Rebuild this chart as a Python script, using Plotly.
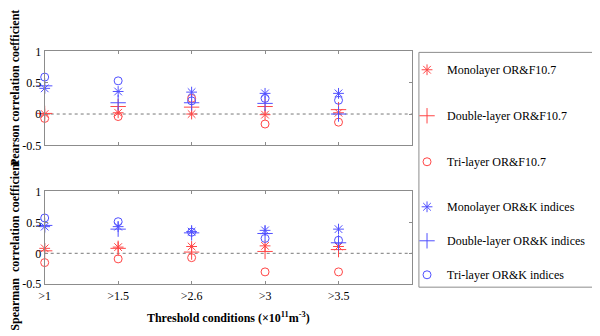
import plotly.graph_objects as go

categories = [">1", ">1.5", ">2.6", ">3", ">3.5"]
x_pos = [1, 2, 3, 4, 5]

pearson_mono_f107 = [0.0, 0.02, 0.0, -0.01, 0.02]
pearson_double_f107 = [0.01, 0.12, 0.11, 0.12, 0.07]
pearson_tri_f107 = [-0.07, -0.04, 0.25, -0.16, -0.13]
pearson_mono_k = [0.41, 0.36, 0.35, 0.33, 0.33]
pearson_double_k = [0.45, 0.18, 0.18, 0.17, 0.0]
pearson_tri_k = [0.59, 0.53, 0.21, 0.25, 0.22]

spearman_mono_f107 = [0.08, 0.10, 0.11, 0.12, 0.11]
spearman_double_f107 = [0.04, 0.08, 0.02, 0.03, 0.06]
spearman_tri_f107 = [-0.15, -0.09, -0.07, -0.30, -0.30]
spearman_mono_k = [0.43, 0.43, 0.35, 0.37, 0.39]
spearman_double_k = [0.45, 0.39, 0.33, 0.32, 0.17]
spearman_tri_k = [0.57, 0.51, 0.34, 0.24, 0.21]

names = ["Monolayer OR&F10.7", "Double-layer OR&F10.7", "Tri-layer OR&F10.7",
         "Monolayer OR&K indices", "Double-layer OR&K indices", "Tri-layer OR&K indices"]

RED = "rgb(255,70,70)"
BLUE = "rgb(80,80,255)"
styles = [("asterisk-open", RED, 9), ("cross-thin-open", RED, 11), ("circle-open", RED, 8),
          ("asterisk-open", BLUE, 9), ("cross-thin-open", BLUE, 11), ("circle-open", BLUE, 8)]

pearson = [pearson_mono_f107, pearson_double_f107, pearson_tri_f107,
           pearson_mono_k, pearson_double_k, pearson_tri_k]
spearman = [spearman_mono_f107, spearman_double_f107, spearman_tri_f107,
            spearman_mono_k, spearman_double_k, spearman_tri_k]

fig = go.Figure()
for i, (nm, (sym, col, sz)) in enumerate(zip(names, styles)):
    fig.add_trace(go.Scatter(
        x=x_pos, y=pearson[i], mode="markers", name=nm,
        marker=dict(symbol=sym, color=col, size=sz, line=dict(color=col, width=1)),
        xaxis="x", yaxis="y", cliponaxis=False,
        legend="legend" if i < 3 else "legend2", legendgroup=f"g{i}"))
    fig.add_trace(go.Scatter(
        x=x_pos, y=spearman[i], mode="markers", name=nm, showlegend=False,
        marker=dict(symbol=sym, color=col, size=sz, line=dict(color=col, width=1)),
        xaxis="x2", yaxis="y2", cliponaxis=False, legendgroup=f"g{i}"))

W, H = 600, 336
OFF = 8  # page body margin


def px_x(v):
    return (v - OFF) / W


def px_y(v):
    return 1 - (v - OFF) / H


NB = "\u00a0"
axis_col = "rgb(140,140,140)"
tick_font = dict(family="Liberation Serif", size=12, color="black")
title_font = dict(family="Liberation Serif", size=12, color="black")
common_x = dict(range=[1, 6], tickvals=x_pos, ticktext=categories, ticks="inside",
                ticklen=3, tickcolor=axis_col, showline=True, linecolor=axis_col,
                mirror="ticks", showgrid=False, zeroline=False, tickfont=tick_font,
                tickangle=0, domain=[px_x(39), px_x(410)])
common_y = dict(range=[-0.5, 1], tickvals=[-0.5, 0, 0.5, 1], ticktext=["-0.5", "0", "0.5", "1"],
                ticks="inside", ticklen=3, tickcolor=axis_col, showline=True,
                linecolor=axis_col, mirror="ticks", showgrid=False, zeroline=False,
                tickfont=tick_font)

fig.update_layout(
    width=W, height=H, margin=dict(l=0, r=0, t=0, b=0),
    plot_bgcolor="white", paper_bgcolor="white",
    font=dict(family="Liberation Serif", size=12, color="black"),
    xaxis=dict(**common_x, anchor="y", showticklabels=False),
    yaxis=dict(**common_y, anchor="x", domain=[px_y(144), px_y(46)],
               title=dict(text="<b>" + NB * 7 + "Pearson correlation coefficient</b>",
                          font=title_font, standoff=3)),
    xaxis2=dict(**common_x, anchor="y2", showticklabels=True,
                title=dict(text="<b>Threshold conditions (×10<sup>11</sup>m<sup>-3</sup>)</b>",
                           font=title_font, standoff=11)),
    yaxis2=dict(**common_y, anchor="x2", domain=[px_y(289), px_y(192)],
                title=dict(text="<b>Spearman  correlation coefficient" + NB * 5 + "</b>",
                           font=title_font, standoff=3)),
    legend=dict(x=px_x(405), y=px_y(50), xanchor="left", yanchor="top",
                bgcolor="rgba(0,0,0,0)", tracegroupgap=27,
                font=dict(family="Liberation Serif", size=12, color="black")),
    legend2=dict(x=px_x(405), y=px_y(193), xanchor="left", yanchor="top",
                 bgcolor="rgba(0,0,0,0)", tracegroupgap=15,
                 font=dict(family="Liberation Serif", size=12, color="black")),
    shapes=[
        dict(type="rect", xref="paper", yref="paper", x0=px_x(417), x1=px_x(595),
             y0=px_y(292), y1=px_y(47), line=dict(color=axis_col, width=1)),
        dict(type="line", xref="x domain", yref="y", x0=0, x1=1, y0=0, y1=0,
             line=dict(color="rgb(120,120,120)", width=1, dash="dot"), layer="below"),
        dict(type="line", xref="x2 domain", yref="y2", x0=0, x1=1, y0=0, y1=0,
             line=dict(color="rgb(120,120,120)", width=1, dash="dot"), layer="below"),
    ],
)

fig.write_html("out.html")
